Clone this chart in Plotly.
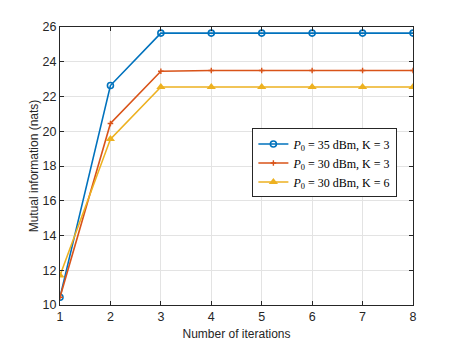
import plotly.graph_objects as go

iterations = [1, 2, 3, 4, 5, 6, 7, 8]

p35_k3 = [10.45, 22.63, 25.65, 25.65, 25.65, 25.65, 25.65, 25.65]
p30_k3 = [10.45, 20.45, 23.45, 23.5, 23.5, 23.5, 23.5, 23.5]
p30_k6 = [11.7, 19.55, 22.55, 22.55, 22.55, 22.55, 22.55, 22.55]

names = [
    "<i>P</i><sub>0</sub> = 35 dBm, K = 3",
    "<i>P</i><sub>0</sub> = 30 dBm, K = 3",
    "<i>P</i><sub>0</sub> = 30 dBm, K = 6",
]

fig = go.Figure()

fig.add_trace(go.Scatter(
    x=iterations, y=p35_k3, name=names[0], mode="lines+markers",
    line=dict(color="#0072BD", width=1.6),
    marker=dict(symbol="circle-open", size=6, color="#0072BD", line=dict(width=1.6))
))
fig.add_trace(go.Scatter(
    x=iterations, y=p30_k3, name=names[1], mode="lines+markers",
    line=dict(color="#D95319", width=1.6),
    marker=dict(symbol="cross-thin-open", size=4, color="#D95319", line=dict(width=1.4, color="#D95319"))
))
fig.add_trace(go.Scatter(
    x=iterations, y=p30_k6, name=names[2], mode="lines+markers",
    line=dict(color="#EDB120", width=1.6),
    marker=dict(symbol="triangle-up", size=8, color="#EDB120")
))

axis_common = dict(
    showgrid=True, gridcolor="#e3e3e3", gridwidth=1,
    showline=True, linecolor="#262626", linewidth=1, mirror="ticks",
    ticks="inside", ticklen=4, tickcolor="#262626",
    tickfont=dict(size=12.5, color="#262626"),
    zeroline=False,
)

fig.update_xaxes(
    range=[1, 8], tickvals=iterations,
    title=dict(text="Number of iterations", font=dict(size=12, color="#262626"), standoff=6),
    **axis_common
)
fig.update_yaxes(
    range=[10, 26], dtick=2,
    title=dict(text="Mutual information (nats)", font=dict(size=12, color="#262626"), standoff=1),
    **axis_common
)

# page body adds an 8px offset, so margins are shifted to compensate
fig.update_layout(
    width=457, height=343,
    margin=dict(l=52, r=52, t=17, b=46),
    paper_bgcolor="white", plot_bgcolor="white",
    font=dict(family="Liberation Sans, Arial, sans-serif"),
    showlegend=True,
    legend=dict(
        x=0.545, y=0.635, xanchor="left", yanchor="top",
        bgcolor="white", bordercolor="#262626", borderwidth=1,
        font=dict(family="Liberation Serif, Times New Roman, serif", size=12, color="black"),
        tracegroupgap=0, itemwidth=30,
    ),
)

fig.write_html("out.html")
